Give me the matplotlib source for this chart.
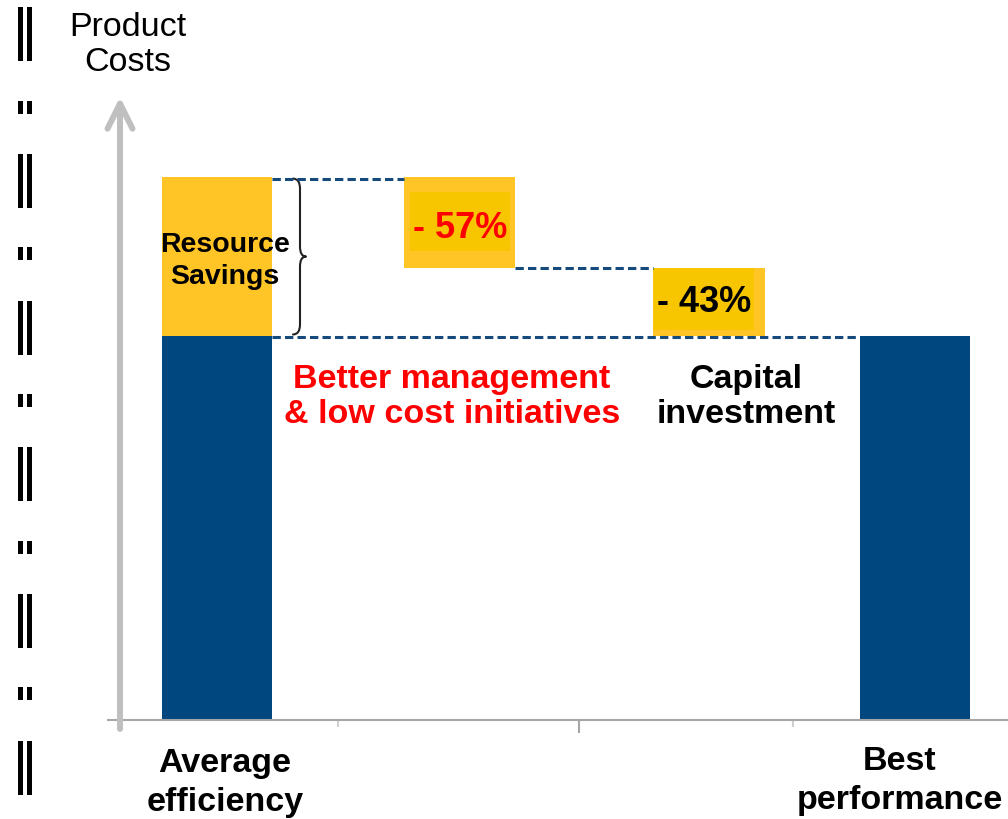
import matplotlib
matplotlib.use("Agg")
import matplotlib.pyplot as plt
from matplotlib.patches import Rectangle, PathPatch
from matplotlib.path import Path

# ---------------- data ----------------
categories = ["Average\nefficiency", "Better management\n& low cost initiatives",
              "Capital\ninvestment", "Best\nperformance"]
base_cost = 70.7          # blue part of the average-efficiency bar
resource_savings = 29.3   # yellow part (savings potential)
step_drops = [16.7, 12.6] # waterfall steps
step_labels = ["- 57%", "- 43%"]
best_cost = 70.7
savings_label = "Resource\nSavings"
axis_label = "Product\nCosts"

# ---------------- style / layout ----------------
BLUE = "#00467F"
YELLOW = "#FFC425"
YELLOW_IN = "#F7C600"
DASH = "#164A7C"
GRAY = "#BFBFBF"
BASE_GRAY = "#A6A6A6"
RED = "#FF0000"
FONT = "Liberation Sans"

W, H, DPI = 1008, 820, 100
PX = 5.43                 # pixels per cost unit
BASE_PX = 721             # baseline pixel row
TOP_PX = 95

plt.rcParams["lines.scale_dashes"] = False
fig = plt.figure(figsize=(W / DPI, H / DPI), dpi=DPI)
ax = fig.add_axes([0, (H - BASE_PX) / H, 1, (BASE_PX - TOP_PX) / H])
ax.set_xlim(0, W)
ax.set_ylim(0, (BASE_PX - TOP_PX) / PX)

bar_x = [217, 459.5, 709, 915]
bar_w = [110, 111, 112, 110]

def ypx(py):
    return (BASE_PX - py) / PX

# first bar
ax.bar(bar_x[0], base_cost, width=bar_w[0], color=BLUE, linewidth=0)
ax.bar(bar_x[0], resource_savings, bottom=base_cost, width=bar_w[0], color=YELLOW, linewidth=0)

# steps
insets = [(6, 5, 15, 17), (0, 11, 0, 6)]  # left, right, top, bottom (px)
level = base_cost + resource_savings
for i, d in enumerate(step_drops):
    x, w = bar_x[i + 1], bar_w[i + 1]
    ax.bar(x, d, bottom=level - d, width=w, color=YELLOW, linewidth=0)
    l, r, t, b = insets[i]
    x0 = x - w / 2 + l
    x1 = x + w / 2 - r
    y0 = level - d + b / PX
    y1 = level - t / PX
    ax.add_patch(Rectangle((x0, y0), x1 - x0, y1 - y0, color=YELLOW_IN, linewidth=0))
    level -= d

# last bar
ax.bar(bar_x[3], best_cost, width=bar_w[3], color=BLUE, linewidth=0)

# dashed connectors
dash = (0, (6.0, 3.0))
LW = 2.2
top = base_cost + resource_savings
ax.plot([bar_x[0] + bar_w[0] / 2, bar_x[1] - bar_w[1] / 2], [top - 0.3, top - 0.3],
        color=DASH, lw=LW, linestyle=dash)
mid = top - step_drops[0]
ax.plot([bar_x[1] + bar_w[1] / 2, bar_x[2] - bar_w[2] / 2], [mid, mid],
        color=DASH, lw=LW, linestyle=dash)
ax.plot([bar_x[0] + bar_w[0] / 2, bar_x[3] - bar_w[3] / 2], [best_cost - 0.2, best_cost - 0.2],
        color=DASH, lw=LW, linestyle=dash)

# curly brace
x0, x1, x2 = 293, 300, 306
yt, yb = top - 0.3, base_cost + 0.3
ym = (yt + yb) / 2
r = 10 / PX
verts = [(x0, yt), (x1, yt), (x1, yt - r), (x1, ym + r), (x1, ym), (x2, ym),
         (x1, ym), (x1, ym - r), (x1, yb + r), (x1, yb), (x0, yb)]
codes = [Path.MOVETO, Path.CURVE3, Path.CURVE3, Path.LINETO, Path.CURVE3, Path.CURVE3,
         Path.CURVE3, Path.CURVE3, Path.LINETO, Path.CURVE3, Path.CURVE3]
ax.add_patch(PathPatch(Path(verts, codes), fill=False, edgecolor="#222222", lw=1.5,
                       capstyle="round", joinstyle="round"))

# axes
for s in ["top", "right", "left"]:
    ax.spines[s].set_visible(False)
ax.spines["bottom"].set_color(BASE_GRAY)
ax.spines["bottom"].set_linewidth(1.5)
ax.spines["bottom"].set_bounds(108, W)
ax.set_yticks([])
ax.set_xticks([579])
ax.set_xticks([338, 793], minor=True)
ax.tick_params(axis="x", which="major", length=9, width=1.5, color=BASE_GRAY, labelbottom=False)
ax.tick_params(axis="x", which="minor", length=5, width=1.5, color="#D0D0D0", labelbottom=False)

ax.annotate("", xy=(120, ypx(98)), xytext=(120, ypx(730)),
            arrowprops=dict(arrowstyle="->,head_length=1.0,head_width=0.5", lw=4.3,
                            color=GRAY, mutation_scale=18, shrinkA=0, shrinkB=0),
            annotation_clip=False)

# texts
fig.text(128 / W, 1 - 45 / H, axis_label, ha="center", va="center", fontsize=24.5,
         family=FONT, color="black", linespacing=1.13)
ax.text(bar_x[0] + 8, ypx(261), savings_label, ha="center", va="center", fontsize=20.5,
        family=FONT, weight="bold", linespacing=1.28)
ax.text(460, ypx(228), step_labels[0], ha="center", va="center", fontsize=26,
        family=FONT, weight="bold", color=RED)
ax.text(704, ypx(302), step_labels[1], ha="center", va="center", fontsize=26,
        family=FONT, weight="bold", color="black")
ax.text(452, ypx(397), categories[1], ha="center", va="center", fontsize=24.5,
        family=FONT, weight="bold", color=RED, linespacing=1.17)
ax.text(746, ypx(397), categories[2], ha="center", va="center", fontsize=24.5,
        family=FONT, weight="bold", color="black", linespacing=1.17)
ax.text(225, ypx(783), categories[0], ha="center", va="center", fontsize=24.5,
        family=FONT, weight="bold", color="black", linespacing=1.3)
ax.text(900, ypx(781), categories[3], ha="center", va="center", fontsize=24.5,
        family=FONT, weight="bold", color="black", linespacing=1.3)

# left-edge marks
def fig_rect(x, y, w, h):
    fig.add_artist(Rectangle((x / W, 1 - (y + h) / H), w / W, h / H,
                             transform=fig.transFigure, color="black", linewidth=0))

for ty in [8, 155, 302, 448, 595, 742]:
    fig_rect(18, ty, 5, 54)
    fig_rect(27, ty, 5, 54)
for sy in [102, 248, 395, 542, 688]:
    fig_rect(18, sy, 5, 13)
    fig_rect(27, sy, 5, 13)

fig.savefig("out.png", dpi=DPI)
